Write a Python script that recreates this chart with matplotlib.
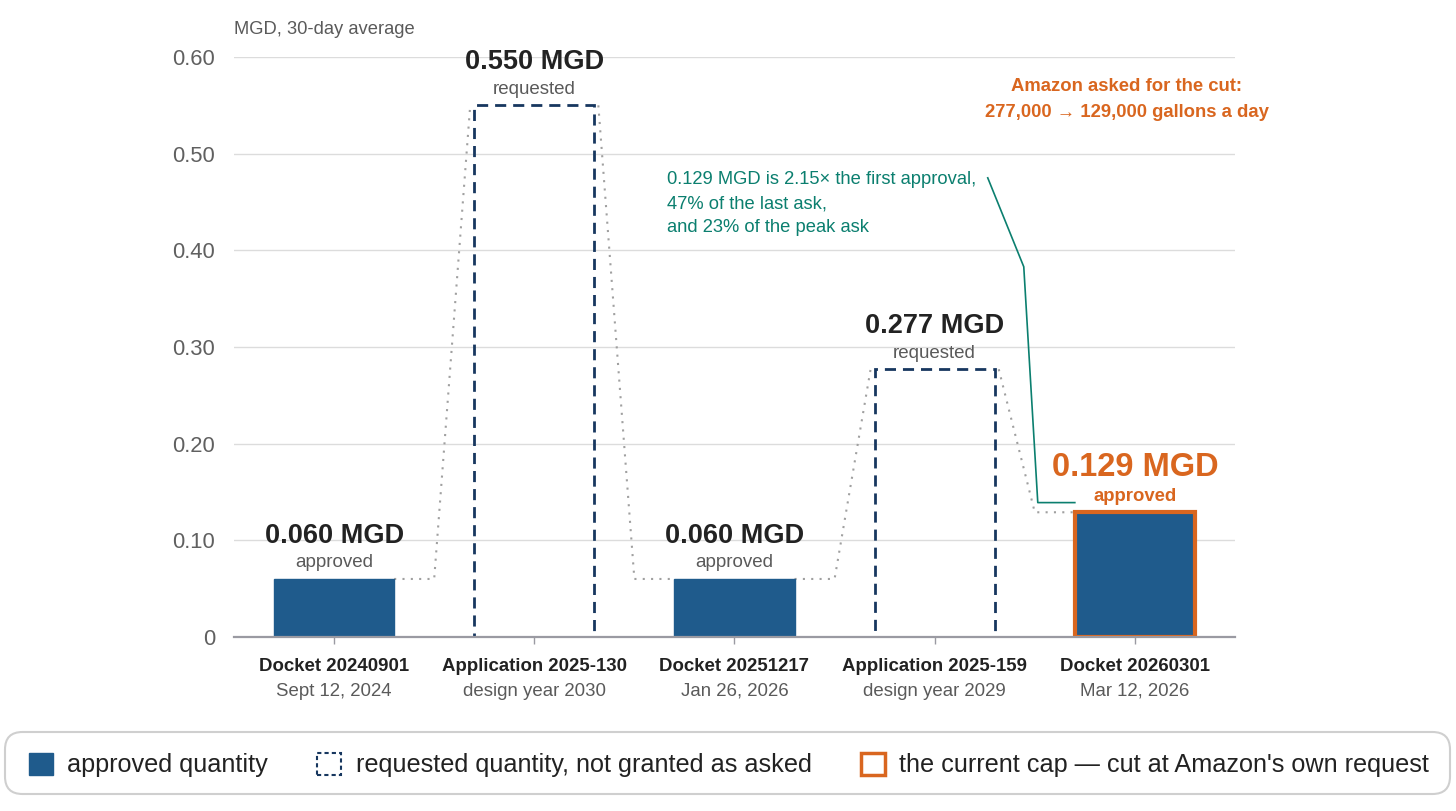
import matplotlib
matplotlib.use('Agg')
import matplotlib.pyplot as plt
from matplotlib.patches import Patch, FancyBboxPatch

plt.rcParams['font.family'] = ['Liberation Sans', 'DejaVu Sans']

# data
categories = ['Docket 20240901', 'Application 2025-130', 'Docket 20251217',
              'Application 2025-159', 'Docket 20260301']
subtitles = ['Sept 12, 2024', 'design year 2030', 'Jan 26, 2026',
             'design year 2029', 'Mar 12, 2026']
values = [0.060, 0.550, 0.060, 0.277, 0.129]
kinds = ['approved', 'requested', 'approved', 'requested', 'current']
yticks = [0, 0.1, 0.2, 0.3, 0.4, 0.5, 0.6]
ytick_labels = ['0', '0.10', '0.20', '0.30', '0.40', '0.50', '0.60']

BLUE = '#1f5b8c'
NAVY = '#17375f'
ORANGE = '#d9661f'
TEAL = '#0b7f6f'
GRAY = '#5a5a5a'
DARK = '#222222'

W, H = 1456, 811
fig = plt.figure(figsize=(W / 100, H / 100), dpi=100)
ax = fig.add_axes([0.1607, 0.2146, 0.6875, 0.7151])

x = list(range(len(categories)))
width = 0.6

for i, (v, k) in enumerate(zip(values, kinds)):
    if k == 'approved':
        ax.bar(i, v, width, color=BLUE, edgecolor=BLUE, zorder=3)
    elif k == 'requested':
        ax.bar(i, v, width, fill=False, edgecolor=NAVY, linestyle=(0, (4, 2.5)),
               linewidth=2, zorder=3)
    else:
        ax.bar(i, v, width, color=BLUE, edgecolor=ORANGE, linewidth=3, zorder=3)

# dotted connectors between bars
for i in range(len(values) - 1):
    a, b = values[i], values[i + 1]
    if b > a:
        xs = [i + 0.3, i + 0.5, i + 0.68]
        ys = [a, a, b]
    else:
        xs = [i + 0.32, i + 0.5, i + 0.7]
        ys = [a, b, b]
    ax.plot(xs, ys, color='#a0a0a0', linestyle=(0, (1, 3)), linewidth=1.5, zorder=2)

# value labels
for i, (v, k) in enumerate(zip(values, kinds)):
    if k == 'current':
        ax.annotate(f'{v:.3f} MGD', (i, v), xytext=(0, 32), textcoords='offset points',
                    ha='center', va='center', fontsize=23.5, fontweight='bold', color=ORANGE)
        ax.annotate('approved', (i, v), xytext=(0, 11.5), textcoords='offset points',
                    ha='center', va='center', fontsize=13.3, fontweight='bold', color=ORANGE)
    else:
        ax.annotate(f'{v:.3f} MGD', (i, v), xytext=(0, 31), textcoords='offset points',
                    ha='center', va='center', fontsize=19.5, fontweight='bold', color=DARK)
        ax.annotate(k, (i, v), xytext=(0, 11.5), textcoords='offset points',
                    ha='center', va='center', fontsize=13.5, color=GRAY)

# category labels
for i, (c, s) in enumerate(zip(categories, subtitles)):
    ax.annotate(c, (i, 0), xycoords=('data', 'axes fraction'), xytext=(0, -21),
                textcoords='offset points', ha='center', va='center',
                fontsize=13.4, fontweight='bold', color=DARK)
    ax.annotate(s, (i, 0), xycoords=('data', 'axes fraction'), xytext=(0, -39),
                textcoords='offset points', ha='center', va='center',
                fontsize=13.4, color=GRAY)

ax.set_xlim(-0.5, len(categories) - 0.5)
ax.set_ylim(0, 0.6)
ax.set_xticks(x)
ax.set_xticklabels([])
ax.set_yticks(yticks)
ax.set_yticklabels(ytick_labels, fontsize=15.8, color='#606060')
ax.tick_params(axis='y', length=0, pad=13.5)
ax.tick_params(axis='x', length=5, color='#9a9aa2', width=1)
ax.grid(axis='y', color='#dcdcdc', linewidth=1, zorder=0)
ax.set_axisbelow(True)
for side in ['top', 'right', 'left']:
    ax.spines[side].set_visible(False)
ax.spines['bottom'].set_color('#9a9aa2')
ax.spines['bottom'].set_linewidth(1.6)
ax.spines['bottom'].set_zorder(4)

ax.annotate('MGD, 30-day average', (0, 1), xycoords='axes fraction', xytext=(0, 20),
            textcoords='offset points', ha='left', va='center', fontsize=13.2, color=GRAY)

# teal note with leader line
ax.text(1.665, 0.482, '0.129 MGD is 2.15× the first approval,\n47% of the last ask,\nand 23% of the peak ask',
        ha='left', va='top', fontsize=13.2, color=TEAL, linespacing=1.55)
last = len(values) - 1
ax.plot([3.265, 3.445, 3.515, last - width / 2], [0.475, 0.383, values[last] + 0.01, values[last] + 0.01],
        color=TEAL, linewidth=1.2, zorder=4)

# orange note
ax.text(3.96, 0.570, 'Amazon asked for the cut:', ha='center', va='center',
        fontsize=13.3, fontweight='bold', color=ORANGE)
ax.text(3.96, 0.543, '277,000 \u2192 129,000 gallons a day', ha='center', va='center',
        fontsize=13.3, fontweight='bold', color=ORANGE)

# legend
frame = FancyBboxPatch((5 / W, 1 - 794 / H), 1445 / W, 62 / H,
                       boxstyle='round,pad=0,rounding_size=0.012',
                       transform=fig.transFigure, facecolor='white',
                       edgecolor='#cfcfcf', linewidth=1.5, mutation_aspect=W / H)
fig.patches.append(frame)
handles = [
    Patch(facecolor=BLUE, edgecolor=BLUE, label='approved quantity'),
    Patch(facecolor='white', edgecolor=NAVY, linestyle=(0, (2, 1.5)), linewidth=1.5,
          label='requested quantity, not granted as asked'),
    Patch(facecolor='white', edgecolor=ORANGE, linewidth=2.5,
          label="the current cap \u2014 cut at Amazon's own request"),
]
leg = fig.legend(handles=handles, loc='center', ncol=3, mode='expand',
                 bbox_to_anchor=(29 / W, 1 - 792 / H, 1400 / W, 54 / H),
                 fontsize=18.2, handlelength=0.96, handleheight=0.96, handletextpad=0.56,
                 frameon=False, borderpad=0, borderaxespad=0, labelcolor=DARK)

fig.savefig('out.png', dpi=100)
